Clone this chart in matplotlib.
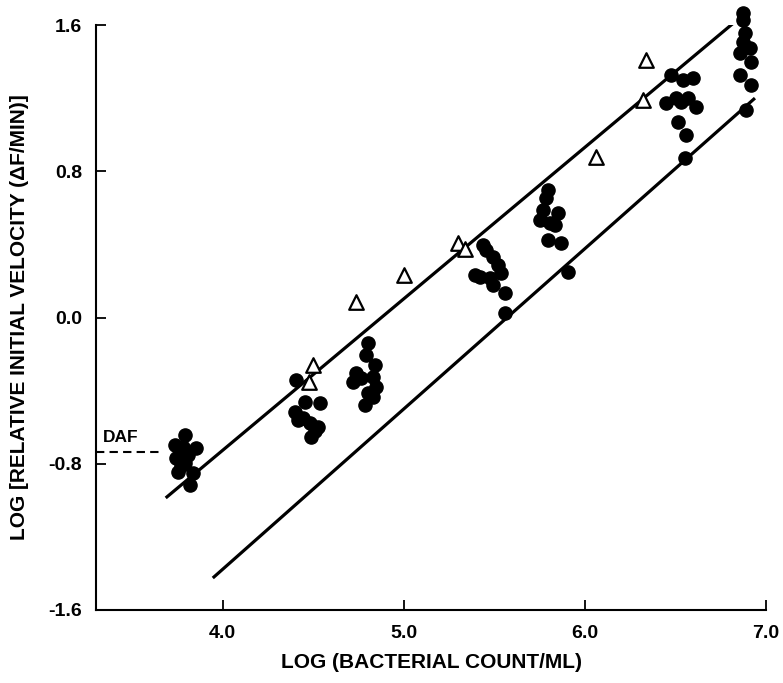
import matplotlib.pyplot as plt

# --- data ---
dot_x = [3.79, 3.735, 3.851, 3.779, 3.74, 3.79, 3.751, 3.834, 3.818, 3.81, 3.77,
         4.403, 4.453, 4.536, 4.398, 4.442, 4.481, 4.525, 4.486, 4.414, 4.508,
         4.801, 4.79, 4.84, 4.735, 4.718, 4.829, 4.845, 4.801, 4.785, 4.829, 4.762,
         5.436, 5.453, 5.492, 5.519, 5.536, 5.42, 5.475, 5.492, 5.558, 5.558, 5.392,
         5.796, 5.785, 5.851, 5.751, 5.807, 5.834, 5.796, 5.867, 5.906, 5.768,
         6.475, 6.541, 6.597, 6.448, 6.503, 6.569, 6.613, 6.514, 6.558, 6.552, 6.53,
         6.873, 6.873, 6.884, 6.873, 6.912, 6.856, 6.917, 6.856, 6.917, 6.89]
dot_y = [-0.643, -0.698, -0.714, -0.708, -0.769, -0.796, -0.845, -0.851, -0.916, -0.75, -0.81,
         -0.342, -0.462, -0.468, -0.517, -0.55, -0.577, -0.599, -0.654, -0.561, -0.62,
         -0.14, -0.205, -0.26, -0.304, -0.353, -0.326, -0.38, -0.413, -0.479, -0.435, -0.331,
         0.397, 0.369, 0.331, 0.287, 0.243, 0.221, 0.216, 0.178, 0.134, 0.024, 0.232,
         0.697, 0.654, 0.572, 0.533, 0.517, 0.506, 0.424, 0.407, 0.249, 0.588,
         1.326, 1.299, 1.31, 1.173, 1.201, 1.201, 1.151, 1.069, 0.998, 0.872, 1.18,
         1.666, 1.627, 1.556, 1.507, 1.474, 1.447, 1.398, 1.326, 1.272, 1.135]

tri_x = [4.497, 4.475, 4.735, 5.0, 5.298, 5.337, 6.06, 6.32, 6.337]
tri_y = [-0.26, -0.353, 0.085, 0.232, 0.407, 0.375, 0.878, 1.19, 1.409]

upper_x = [3.685, 6.84]
upper_y = [-0.987, 1.627]
lower_x = [3.945, 6.939]
lower_y = [-1.425, 1.2]

daf_y = -0.736
daf_x = [3.30, 3.66]

xticks = [4.0, 5.0, 6.0, 7.0]
yticks = [-1.6, -0.8, 0.0, 0.8, 1.6]

plt.rcParams["font.family"] = ["Liberation Sans", "DejaVu Sans"]
plt.rcParams["font.weight"] = "bold"

fig = plt.figure(figsize=(7.83, 6.83), dpi=100)
ax = fig.add_axes([96 / 783, 1 - 610 / 683, 670 / 783, 585 / 683])

ax.plot(upper_x, upper_y, color="black", lw=2.3, solid_capstyle="butt")
ax.plot(lower_x, lower_y, color="black", lw=2.3, solid_capstyle="butt")
ax.plot(daf_x, [daf_y, daf_y], color="black", lw=1.5, ls=(0, (4, 2.5)), clip_on=False)
ax.text(3.34, daf_y + 0.04, "DAF", fontsize=12.5, fontweight="bold", ha="left", va="bottom")

ax.scatter(dot_x, dot_y, s=90, color="black", zorder=3, clip_on=False)
ax.scatter(tri_x, tri_y, s=110, marker="^", facecolor="white", edgecolor="black",
           linewidth=1.6, zorder=4, clip_on=False)

ax.set_xlim(3.30, 7.0)
ax.set_ylim(-1.6, 1.6)
ax.set_xticks(xticks)
ax.set_xticklabels(["%.1f" % v for v in xticks])
ax.set_yticks(yticks)
ax.set_yticklabels(["%.1f" % v for v in yticks])

for s in ["top", "right"]:
    ax.spines[s].set_visible(False)
for s in ["left", "bottom"]:
    ax.spines[s].set_linewidth(1.5)
ax.tick_params(direction="in", length=7, width=1.3, labelsize=14, pad=10)
ax.tick_params(axis="x", pad=11)

ax.set_xlabel("LOG (BACTERIAL COUNT/ML)", fontsize=15, fontweight="bold", labelpad=8)
ax.set_ylabel("LOG [RELATIVE INITIAL VELOCITY (ΔF/MIN)]", fontsize=15,
              fontweight="bold", labelpad=14)

fig.savefig("out.png", dpi=100)
